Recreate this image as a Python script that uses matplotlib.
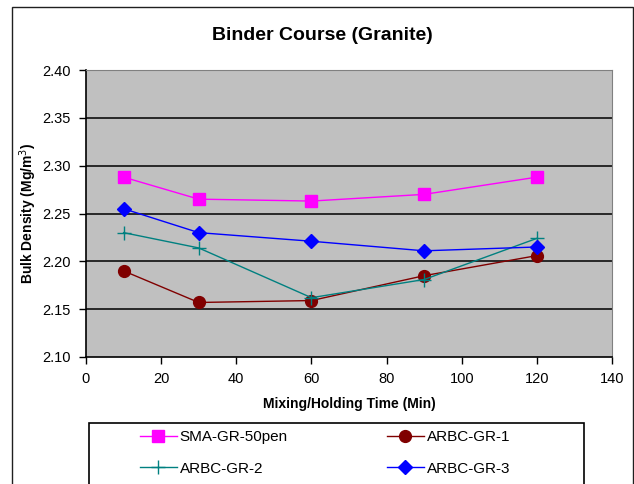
import numpy as np
import matplotlib.pyplot as plt
from matplotlib.patches import Rectangle

plt.rcParams['font.family'] = ['Liberation Sans', 'DejaVu Sans']

times = [10, 30, 60, 90, 120]
sma_gr_50pen = [2.288, 2.265, 2.263, 2.270, 2.288]
arbc_gr_1 = [2.190, 2.157, 2.159, 2.185, 2.206]
arbc_gr_2 = [2.230, 2.214, 2.162, 2.181, 2.224]
arbc_gr_3 = [2.255, 2.230, 2.221, 2.211, 2.215]

x_ticks = [0, 20, 40, 60, 80, 100, 120, 140]
y_ticks = [2.10, 2.15, 2.20, 2.25, 2.30, 2.35, 2.40]

W, H = 634, 484
fig = plt.figure(figsize=(W / 100, H / 100), dpi=100)

# outer chart frame, runs off the bottom edge
fig.patches.append(Rectangle((12 / W, -0.1), (633 - 12) / W, 1.1 - 7 / H,
                             transform=fig.transFigure, fill=False,
                             edgecolor='#202020', linewidth=1.0))

ax = fig.add_axes([86 / W, 1 - 357 / H, (612 - 86) / W, (357 - 70) / H])
ax.set_facecolor('#C0C0C0')

ax.hlines(y_ticks[1:-1], 0, 140, colors='black', linewidth=1.1, zorder=1)

l1, = ax.plot(times, sma_gr_50pen, color='#FF00FF', marker='s', markersize=9,
              linewidth=1.0, label='SMA-GR-50pen', zorder=3)
l2, = ax.plot(times, arbc_gr_1, color='#800000', marker='o', markersize=8.5,
              linewidth=1.0, label='ARBC-GR-1', zorder=3)
l3, = ax.plot(times, arbc_gr_2, color='#008080', marker='+', markersize=10,
              markeredgewidth=1.0, linewidth=1.0, label='ARBC-GR-2', zorder=3)
l4, = ax.plot(times, arbc_gr_3, color='#0000FF', marker='D', markersize=7.5,
              linewidth=1.0, label='ARBC-GR-3', zorder=3)

ax.set_xlim(0, 140)
ax.set_ylim(2.10, 2.40)
ax.set_xticks(x_ticks)
ax.set_yticks(y_ticks)
ax.set_yticklabels([f'{v:.2f}' for v in y_ticks])
ax.tick_params(direction='out', length=5, width=1, labelsize=10.5, pad=6)

for side in ['top', 'right']:
    ax.spines[side].set_color('#808080')
for side in ['left', 'bottom']:
    ax.spines[side].set_color('black')
    ax.spines[side].set_linewidth(1.2)

ax.set_xlabel('Mixing/Holding Time (Min)', fontsize=10, fontweight='bold', labelpad=8)
ax.set_ylabel('Bulk Density (Mg/m$^3$)', fontsize=10, fontweight='bold', labelpad=2)

fig.text(322 / W, 1 - 36 / H, 'Binder Course (Granite)', fontsize=14,
         fontweight='bold', ha='center', va='center')

# legend box, also cut off at the bottom
fig.patches.append(Rectangle((89 / W, -0.1), (584 - 89) / W, 0.1 + 1 - 423 / H,
                             transform=fig.transFigure, fill=False,
                             edgecolor='black', linewidth=1.2))
fig.legend(handles=[l1, l3, l2, l4], ncol=2, loc='upper left',
           bbox_to_anchor=(140 / W, 1 - 430 / H), frameon=False, fontsize=11,
           borderpad=0, handlelength=2.4, handletextpad=0.2,
           labelspacing=1.15, columnspacing=6.5, borderaxespad=0)

fig.savefig('out.png', dpi=100)
